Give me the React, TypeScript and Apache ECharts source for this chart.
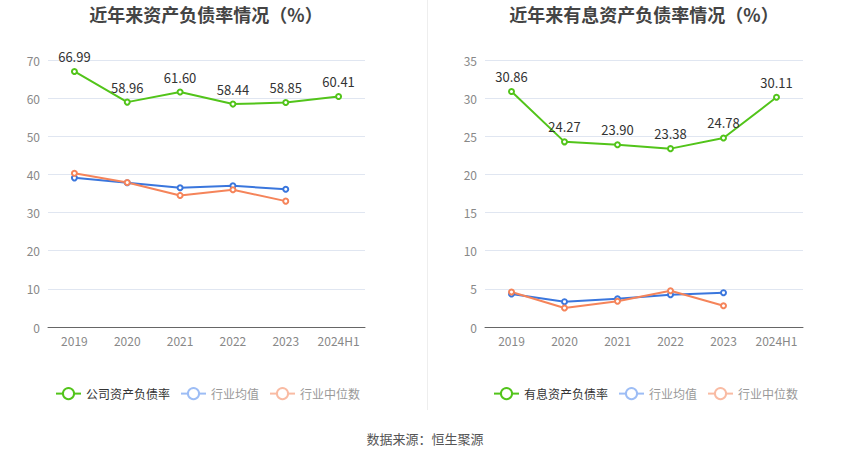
import React, { useEffect, useRef } from "react";
import * as echarts from "echarts";

const categories = ["2019", "2020", "2021", "2022", "2023", "2024H1"];
const companyDebt = [66.99, 58.96, 61.6, 58.44, 58.85, 60.41];
const industryAvgDebt = [39.1, 37.8, 36.5, 37.0, 36.1];
const industryMedDebt = [40.3, 37.9, 34.5, 36.0, 33.0];
const companyInterest = [30.86, 24.27, 23.9, 23.38, 24.78, 30.11];
const industryAvgInterest = [4.33, 3.32, 3.71, 4.23, 4.5];
const industryMedInterest = [4.59, 2.49, 3.37, 4.76, 2.79];

const GREEN = "#52c41a";
const BLUE = "#3a76dd";
const ORANGE = "#f5845a";
const FONT = "'Noto Sans CJK SC', 'Noto Sans', sans-serif";

export default function App() {
  const ref = useRef<HTMLDivElement>(null);
  useEffect(() => {
    document.body.style.margin = "0";
    const chart = echarts.init(ref.current!, undefined, { renderer: "svg" });
    const legendItems = (first: string) => [
      { name: first, textStyle: { color: "#333" } },
      {
        name: "行业均值",
        textStyle: { color: "#999" },
        itemStyle: { color: "#9dbdf5", borderColor: "#9dbdf5", borderWidth: 2 },
        lineStyle: { color: "#9dbdf5", width: 2 },
      },
      {
        name: "行业中位数",
        textStyle: { color: "#999" },
        itemStyle: { color: "#f9bba3", borderColor: "#f9bba3", borderWidth: 2 },
        lineStyle: { color: "#f9bba3", width: 2 },
      },
    ];
    const xAxis = (gridIndex: number) => ({
      type: "category",
      gridIndex,
      data: categories,
      axisLine: { lineStyle: { color: "#666" } },
      axisTick: { alignWithLabel: true, lineStyle: { color: "#666" } },
      axisLabel: { color: "#888", fontSize: 12, fontFamily: FONT, margin: 7, interval: 0 },
    });
    const yAxis = (gridIndex: number, max: number, interval: number) => ({
      type: "value",
      gridIndex,
      min: 0,
      max,
      interval,
      axisLine: { show: false },
      axisTick: { show: false },
      axisLabel: { color: "#888", fontSize: 12, fontFamily: FONT, margin: 8 },
      splitLine: { lineStyle: { color: "#e0e6f1" } },
    });
    const line = (
      name: string,
      data: number[],
      color: string,
      idx: number,
      label: boolean
    ) => ({
      type: "line",
      name,
      data,
      xAxisIndex: idx,
      yAxisIndex: idx,
      symbol: "emptyCircle",
      symbolSize: 5,
      lineStyle: { color, width: 2 },
      itemStyle: { color, borderWidth: 2 },
      label: label
        ? {
            show: true,
            position: "top",
            color: "#333",
            fontSize: 13,
            fontFamily: FONT,
            distance: 5,
            formatter: (p: any) => Number(p.value).toFixed(2),
          }
        : { show: false },
      z: label ? 3 : 2,
    });
    chart.setOption({
      animation: false,
      textStyle: { fontFamily: FONT },
      title: [
        {
          text: "近年来资产负债率情况（%）",
          left: 201,
          top: 0,
          textAlign: "center",
          textStyle: { fontSize: 18, fontWeight: "bold", color: "#444", fontFamily: FONT },
        },
        {
          text: "近年来有息资产负债率情况（%）",
          left: 639,
          top: 0,
          textAlign: "center",
          textStyle: { fontSize: 18, fontWeight: "bold", color: "#444", fontFamily: FONT },
        },
      ],
      legend: [
        {
          left: 50,
          top: 382,
          itemWidth: 25,
          itemHeight: 14,
          itemGap: 10,
          textStyle: { fontSize: 12, fontFamily: FONT },
          data: legendItems("公司资产负债率"),
        },
        {
          left: 488,
          top: 382,
          itemWidth: 25,
          itemHeight: 14,
          itemGap: 10,
          textStyle: { fontSize: 12, fontFamily: FONT },
          data: legendItems("有息资产负债率"),
        },
      ],
      grid: [
        { left: 48, right: 485, top: 60, bottom: 132 },
        { left: 485, right: 47, top: 60, bottom: 132 },
      ],
      xAxis: [xAxis(0), xAxis(1)],
      yAxis: [yAxis(0, 70, 10), yAxis(1, 35, 5)],
      series: [
        line("公司资产负债率", companyDebt, GREEN, 0, true),
        line("行业均值", industryAvgDebt, BLUE, 0, false),
        line("行业中位数", industryMedDebt, ORANGE, 0, false),
        line("有息资产负债率", companyInterest, GREEN, 1, true),
        line("行业均值", industryAvgInterest, BLUE, 1, false),
        line("行业中位数", industryMedInterest, ORANGE, 1, false),
      ],
      graphic: [
        {
          type: "line",
          shape: { x1: 427.5, y1: 0, x2: 427.5, y2: 410 },
          style: { stroke: "#eeeeee", lineWidth: 1 },
        },
        {
          type: "text",
          x: 425,
          y: 438,
          style: {
            text: "数据来源：恒生聚源",
            fill: "#555",
            fontSize: 13,
            fontFamily: FONT,
            textAlign: "center",
            textVerticalAlign: "middle",
          },
        },
      ],
    });
    return () => chart.dispose();
  }, []);
  return <div ref={ref} style={{ width: 850, height: 459 }} />;
}
